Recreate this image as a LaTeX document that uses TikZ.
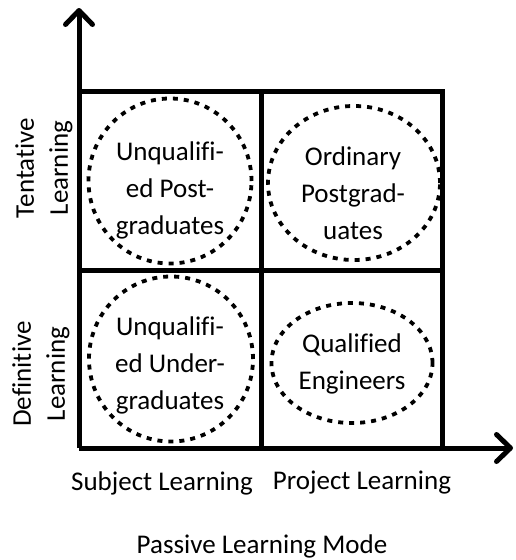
\documentclass[tikz,border=0pt]{standalone}
\usepackage{fontspec}
\setmainfont{Carlito}[Ligatures=NoCommon]
\usetikzlibrary{arrows.meta,shapes.geometric}
\begin{document}
\begin{tikzpicture}[x=1pt,y=-1pt,
  grid/.style={line width=5pt,line cap=rect},
  axis/.style={line width=5pt,-{Straight Barb[length=14pt,width=27pt,line width=5pt,round]}},
  group/.style={ellipse,draw,line width=3.8pt,dash pattern=on 5pt off 6pt,inner sep=0pt},
  txt/.style={font=\fontsize{27}{37}\selectfont,align=center,inner sep=0pt},
  side/.style={font=\fontsize{27}{34}\selectfont,align=center,inner sep=0pt,rotate=90}]
\path[use as bounding box,fill=white] (0,0) rectangle (516,560);
% grid corners
\coordinate (o) at (79,448);
\coordinate (ytip) at (79,8);
\coordinate (xtip) at (513,448);
\coordinate (tl) at (79,91);
\coordinate (tm) at (261,91);
\coordinate (tr) at (442,91);
\coordinate (ml) at (79,270);
\coordinate (mr) at (442,270);
\coordinate (bm) at (261,448);
\coordinate (br) at (442,448);
\draw[grid] (tl) -- (tr) -- (br);
\draw[grid] (ml) -- (mr);
\draw[grid] (tm) -- (bm);
\draw[axis] (o) -- (ytip);
\draw[axis] (o) -- (xtip);
% ellipses
\node[group,minimum width=163pt,minimum height=165pt] (e1) at (170,181) {};
\node[group,minimum width=172pt,minimum height=154pt] (e2) at (354,183) {};
\node[group,minimum width=164pt,minimum height=165pt] (e3) at (171,359) {};
\node[group,minimum width=161pt,minimum height=120pt] (e4) at (352,363) {};
% texts
\node[txt] (t1) at (170,190) {Unqualifi-\\ed Post-\\graduates};
\node[txt] (t2) at (353,193) {Ordinary\\Postgrad-\\uates};
\node[txt] (t3) at (170,365) {Unqualifi-\\ed Under-\\graduates};
\node[txt] (t4) at (352,364) {Qualified\\Engineers};
\node[side] (s1) at (44,168) {Tentative\\Learning};
\node[side] (s2) at (41,374) {Definitive\\Learning};
\node[txt] (b1) at (162,483) {Subject Learning};
\node[txt] (b2) at (362,483) {Project Learning};
\node[txt] (b3) at (262,546) {Passive Learning Mode};
\end{tikzpicture}
\end{document}
